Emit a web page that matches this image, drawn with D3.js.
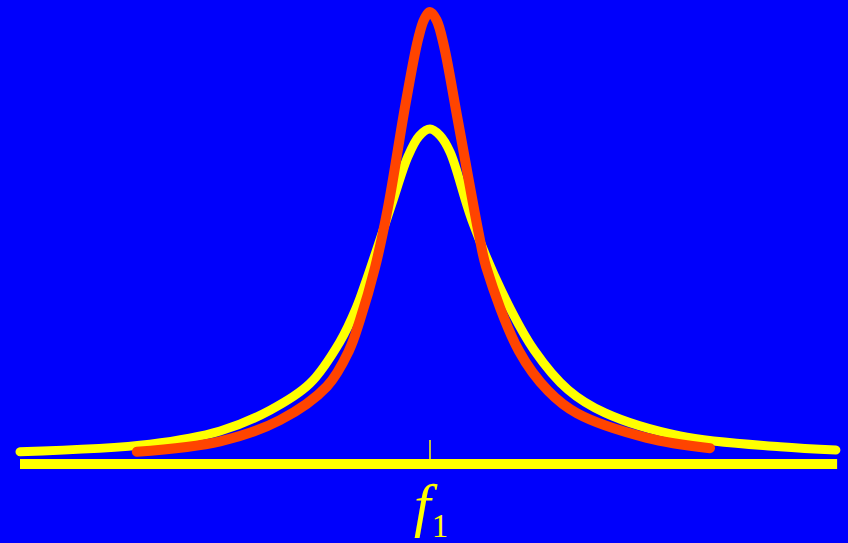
<!DOCTYPE html>
<html>
<head>
<meta charset="utf-8">
<script src="https://cdn.jsdelivr.net/npm/d3@7"></script>
<style>
  html, body { margin: 0; padding: 0; background: #0000fc; overflow: hidden; }
</style>
</head>
<body>
<svg id="chart" width="848" height="543"></svg>
<script>
// two resonance curves around f1: broad (yellow) and sharp (red)
// x = frequency offset from f1, y = relative amplitude
const yellowFreq = [-10.0, -6.83, -5.12, -3.90, -2.93, -2.20, -1.80, -1.54, -0.90, -0.54, -0.26,
                    0.0, 0.24, 0.49, 1.02, 1.76, 2.54, 3.37, 4.27, 6.10, 8.54, 9.90];
const yellowAmp  = [0.027, 0.044, 0.073, 0.119, 0.178, 0.270, 0.345, 0.410, 0.584, 0.680, 0.726,
                    0.741, 0.727, 0.690, 0.540, 0.380, 0.252, 0.164, 0.113, 0.062, 0.038, 0.031];

const redFreq = [-7.15, -5.12, -3.66, -2.51, -1.98, -1.71, -1.34, -1.02, -0.59, -0.29, -0.14,
                 0.0, 0.16, 0.34, 0.68, 1.20, 1.37, 2.17, 2.88, 3.59, 5.29, 6.83];
const redAmp  = [0.027, 0.050, 0.097, 0.172, 0.250, 0.318, 0.435, 0.570, 0.800, 0.940, 0.984,
                 1.0, 0.982, 0.925, 0.760, 0.505, 0.436, 0.250, 0.162, 0.112, 0.058, 0.035];

// axis
const axisExtent = [-10, 9.93];
const tickValues = [0];
const tickLabel  = "f";
const tickSub    = "1";

const svg = d3.select("#chart");
const width  = 848;
const height = 543;

svg.append("rect")
    .attr("width", width)
    .attr("height", height)
    .attr("fill", "#0000fc");

// scales
const x = d3.scaleLinear().domain([-10, 10]).range([20, 840]);
const y = d3.scaleLinear().domain([0, 1]).range([464, 12]);

// baseline axis
svg.append("line")
    .attr("x1", x(axisExtent[0]))
    .attr("x2", x(axisExtent[1]))
    .attr("y1", y(0))
    .attr("y2", y(0))
    .attr("stroke", "#ffff00")
    .attr("stroke-width", 10);

// tick mark at f1
svg.selectAll(".tick")
    .data(tickValues)
    .join("line")
    .attr("class", "tick")
    .attr("x1", d => x(d))
    .attr("x2", d => x(d))
    .attr("y1", y(0) - 5)
    .attr("y2", y(0) - 24)
    .attr("stroke", "#ffff00")
    .attr("stroke-width", 1.5);

// label f_1
const label = svg.append("text")
    .attr("x", x(tickValues[0]) - 16)
    .attr("y", 525)
    .attr("fill", "#ffff00")
    .attr("font-family", "'Liberation Serif', 'DejaVu Serif', serif");
label.append("tspan")
    .attr("font-style", "italic")
    .attr("font-size", "60px")
    .text(tickLabel);
label.append("tspan")
    .attr("font-size", "33px")
    .attr("dx", 1)
    .attr("dy", 12)
    .text(tickSub);

// curves
const line = d3.line()
    .x(d => x(d[0]))
    .y(d => y(d[1]))
    .curve(d3.curveCatmullRom.alpha(0.5));

const yellowData = d3.zip(yellowFreq, yellowAmp);
const redData    = d3.zip(redFreq, redAmp);

svg.append("path")
    .datum(yellowData)
    .attr("d", line)
    .attr("fill", "none")
    .attr("stroke", "#ffff00")
    .attr("stroke-width", 9)
    .attr("stroke-linecap", "round")
    .attr("stroke-linejoin", "round");

svg.append("path")
    .datum(redData)
    .attr("d", line)
    .attr("fill", "none")
    .attr("stroke", "#ff4400")
    .attr("stroke-width", 10)
    .attr("stroke-linecap", "round")
    .attr("stroke-linejoin", "round");
</script>
</body>
</html>
